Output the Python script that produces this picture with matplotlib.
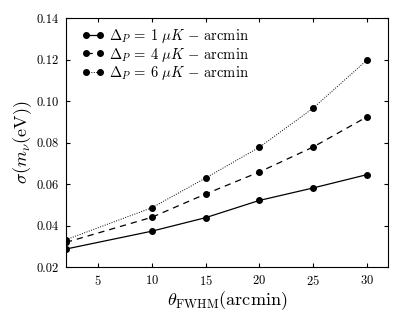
import matplotlib
matplotlib.use('Agg')
import matplotlib.pyplot as plt

# Data
fwhm = [2, 10, 15, 20, 25, 30]
sigma_1uK = [0.0287, 0.0373, 0.0438, 0.0521, 0.0581, 0.0645]
sigma_4uK = [0.0319, 0.0440, 0.0552, 0.0658, 0.0778, 0.0923]
sigma_6uK = [0.0332, 0.0486, 0.0629, 0.0777, 0.0965, 0.1196]

labels = [r'$\Delta_P \,=\, 1\ \mu K \,-\, \mathrm{arcmin}$',
          r'$\Delta_P \,=\, 4\ \mu K \,-\, \mathrm{arcmin}$',
          r'$\Delta_P \,=\, 6\ \mu K \,-\, \mathrm{arcmin}$']

plt.rcParams['font.family'] = 'serif'
plt.rcParams['font.serif'] = ['cmr10']
plt.rcParams['mathtext.fontset'] = 'cm'
plt.rcParams['axes.formatter.use_mathtext'] = True

fig = plt.figure(figsize=(4.15, 3.12), dpi=100)
ax = fig.add_axes([0.159, 0.144, 0.776, 0.798])

ax.plot(fwhm, sigma_1uK, 'k-', marker='o', markersize=4, lw=0.9, label=labels[0])
ax.plot(fwhm, sigma_4uK, 'k', ls=(0, (5, 4)), marker='o', markersize=4, lw=0.9, label=labels[1])
ax.plot(fwhm, sigma_6uK, 'k', ls=(0, (1, 1.5)), marker='o', markersize=4, lw=0.7, label=labels[2])

ax.set_xlim(2, 32)
ax.set_ylim(0.02, 0.14)
ax.set_xticks([5, 10, 15, 20, 25, 30])
ax.set_yticks([0.02, 0.04, 0.06, 0.08, 0.10, 0.12, 0.14])
ax.set_yticklabels(['0.02', '0.04', '0.06', '0.08', '0.10', '0.12', '0.14'])
ax.tick_params(direction='in', top=True, right=True, labelsize=9, length=3, pad=5)

ax.set_xlabel(r'$\theta_{\mathrm{FWHM}}(\mathrm{arcmin})$', fontsize=13, labelpad=1)
ax.set_ylabel(r'$\sigma(m_\nu(\mathrm{eV}))$', fontsize=13, labelpad=2)

ax.legend(loc='upper left', frameon=False, fontsize=10.5, numpoints=2,
          handlelength=1.6, handletextpad=0.3, labelspacing=0.05,
          borderaxespad=0.2, bbox_to_anchor=(0.02, 1.0))

fig.savefig('out.png', dpi=100)
